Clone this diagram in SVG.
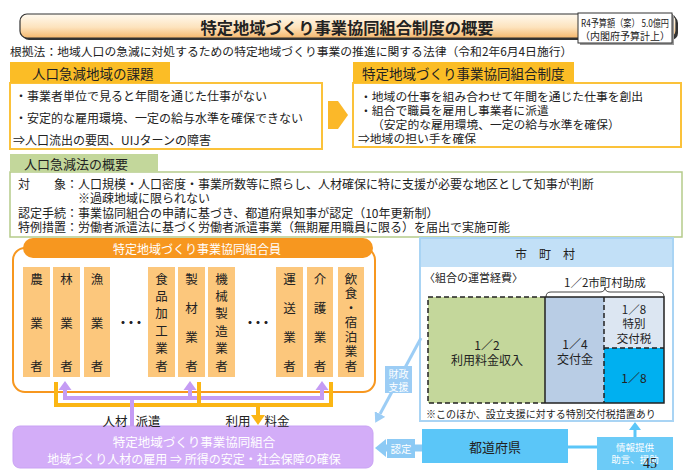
<svg xmlns="http://www.w3.org/2000/svg" width="690" height="474" viewBox="0 0 690 474">
<style>
text{font-family:"Noto Sans CJK JP","Noto Sans",sans-serif;fill:#222;dominant-baseline:central}
.c{text-anchor:middle}
.w{fill:#fff}
.col{font-size:12.5px;text-anchor:middle}
.colbox{fill:#fcc77c}
.hdr{fill:#fbbd26}
.ybox{fill:#fff;stroke:#fbc23a;stroke-width:2}
</style>
<defs>
<linearGradient id="tg" x1="0" y1="0" x2="0" y2="1">
<stop offset="0" stop-color="#fffaf0"/>
<stop offset="0.55" stop-color="#fde3bd"/>
<stop offset="1" stop-color="#f5b76c"/>
</linearGradient>
<marker id="hp" markerUnits="userSpaceOnUse" viewBox="0 -7 9 14" refX="0" refY="0" markerWidth="9" markerHeight="14" orient="auto"><path d="M0,-6.5L9,0L0,6.5z" fill="#c59cf4"/></marker>
<marker id="ho" markerUnits="userSpaceOnUse" viewBox="0 -7 10 14" refX="0" refY="0" markerWidth="10" markerHeight="14" orient="auto"><path d="M0,-7L10,0L0,7z" fill="#fbb614"/></marker>
<marker id="hb1" markerUnits="userSpaceOnUse" viewBox="0 -9 11 18" refX="0" refY="0" markerWidth="11" markerHeight="18" orient="auto"><path d="M0,-9L11,0L0,9z" fill="#8ccaf5"/></marker>
<marker id="hb2" markerUnits="userSpaceOnUse" viewBox="0 -6 10 12" refX="0" refY="0" markerWidth="10" markerHeight="12" orient="auto"><path d="M0,-6L10,0L0,6z" fill="#9ccdf5"/></marker>
<marker id="hb3" markerUnits="userSpaceOnUse" viewBox="0 -6 8 12" refX="0" refY="0" markerWidth="8" markerHeight="12" orient="auto"><path d="M0,-6L8,0L0,6z" fill="#5bc6f8"/></marker>
</defs>

<g id="title">
<rect x="22" y="16" width="656" height="24" rx="7" fill="#333"/>
<rect x="20" y="14" width="656" height="24" rx="7" fill="url(#tg)" stroke="#333" stroke-width="1.2"/>
<text x="347" y="26.5" class="c" font-size="16.3" font-weight="bold">特定地域づくり事業協同組合制度の概要</text>
</g>

<g id="budget">
<rect x="580" y="15" width="94" height="30" fill="#9a9a9a"/>
<rect x="578" y="13" width="94" height="30" fill="#fff" stroke="#333"/>
<text x="625" y="22.5" class="c" font-size="10" textLength="88" lengthAdjust="spacingAndGlyphs">R4予算額（案） 5.0億円</text>
<text x="625" y="35" class="c" font-size="10">（内閣府予算計上）</text>
</g>

<text id="basis" x="10" y="50" font-size="11.8">根拠法：地域人口の急減に対処するための特定地域づくり事業の推進に関する法律（令和2年6月4日施行）</text>

<g id="issues">
<rect x="10" y="83" width="312" height="66" class="ybox"/>
<rect x="10" y="62" width="160" height="21" class="hdr"/>
<text x="32" y="72.5" font-size="13.5">人口急減地域の課題</text>
<text x="15" y="95" font-size="12">・事業者単位で見ると年間を通じた仕事がない</text>
<text x="15" y="117" font-size="12">・安定的な雇用環境、一定の給与水準を確保できない</text>
<text x="13" y="139" font-size="12">⇒人口流出の要因、UIJターンの障害</text>
</g>

<g id="system">
<rect x="353" y="83" width="328" height="64" class="ybox"/>
<rect x="353" y="62" width="221" height="21" class="hdr"/>
<text x="362" y="72.5" font-size="13.5">特定地域づくり事業協同組合制度</text>
<text x="360" y="95" font-size="11.8">・地域の仕事を組み合わせて年間を通じた仕事を創出</text>
<text x="360" y="109" font-size="11.8">・組合で職員を雇用し事業者に派遣</text>
<text x="372" y="123" font-size="11.8">（安定的な雇用環境、一定の給与水準を確保）</text>
<text x="358" y="137.5" font-size="11.8">⇒地域の担い手を確保</text>
</g>

<g id="law">
<rect x="10" y="172" width="672" height="65" fill="#fff" stroke="#b5cb8a" stroke-width="1.5"/>
<rect x="10" y="154" width="148" height="18" fill="#c3d79b"/>
<text x="24" y="163.5" font-size="13">人口急減法の概要</text>
<text x="18" y="183" font-size="12">対　　象：人口規模・人口密度・事業所数等に照らし、人材確保に特に支援が必要な地区として知事が判断</text>
<text x="78" y="197.5" font-size="12">※過疎地域に限られない</text>
<text x="18" y="212" font-size="12">認定手続：事業協同組合の申請に基づき、都道府県知事が認定（10年更新制）</text>
<text x="18" y="226" font-size="12">特例措置：労働者派遣法に基づく労働者派遣事業（無期雇用職員に限る）を届出で実施可能</text>
</g>

<g id="members">
<rect x="13" y="248" width="362" height="144" rx="12" fill="#fff" stroke="#f7971f" stroke-width="2"/>
<rect x="23" y="238" width="350" height="20" rx="10" fill="#f7971f"/>
<text x="197" y="248.5" class="c w" font-size="12">特定地域づくり事業協同組合員</text>
<rect x="23" y="267" width="27" height="110" class="colbox"/>
<text class="col" x="36.5 36.5 36.5" y="278 322 365">農業者</text>
<rect x="53" y="267" width="27" height="110" class="colbox"/>
<text class="col" x="66.5 66.5 66.5" y="278 322 365">林業者</text>
<rect x="84" y="267" width="26" height="110" class="colbox"/>
<text class="col" x="97 97 97" y="278 322 365">漁業者</text>
<text x="117" y="322" font-size="12" font-weight="bold" letter-spacing="-4">・・・</text>
<rect x="148" y="267" width="27" height="110" class="colbox"/>
<text class="col" x="161.5 161.5 161.5 161.5 161.5 161.5" y="278 295.4 312.8 330.2 347.6 365">食品加工業者</text>
<rect x="178" y="267" width="27" height="110" class="colbox"/>
<text class="col" x="191.5 191.5 191.5 191.5" y="278 307 336 365">製材業者</text>
<rect x="208" y="267" width="27" height="110" class="colbox"/>
<text class="col" x="221.5 221.5 221.5 221.5 221.5 221.5" y="278 295.4 312.8 330.2 347.6 365">機械製造業者</text>
<text x="244" y="322" font-size="12" font-weight="bold" letter-spacing="-4">・・・</text>
<rect x="276" y="267" width="27" height="110" class="colbox"/>
<text class="col" x="289.5 289.5 289.5 289.5" y="278 307 336 365">運送業者</text>
<rect x="307" y="267" width="26" height="110" class="colbox"/>
<text class="col" x="320 320 320 320" y="278 307 336 365">介護業者</text>
<rect x="338" y="267" width="26" height="110" class="colbox"/>
<text class="col" x="351 351 351 351 351 351 351" y="278 292.5 307 321.5 336 350.5 365">飲食・宿泊業者</text>
</g>

<g id="union">
<rect x="13" y="426" width="360" height="42" rx="7" fill="#d3adf8" stroke="#c9a2f4"/>
<text x="194" y="441.5" class="c w" font-size="12.5">特定地域づくり事業協同組合</text>
<text x="194" y="458.5" class="c w" font-size="12">地域づくり人材の雇用 ⇒ 所得の安定・社会保障の確保</text>
</g>

<g id="municipality">
<rect x="420" y="238" width="253" height="183" fill="#fff" stroke="#a9d4f4" stroke-width="2"/>
<rect x="421" y="239" width="251" height="28" fill="#c2e0f7"/>
<text x="545" y="253" class="c" font-size="12">市　町　村</text>
<text x="424" y="277" font-size="11">〈組合の運営経費〉</text>
<text x="605" y="282" class="c" font-size="11.5">1／2市町村助成</text>
<path d="M546,297 Q546,292 551,292 L600,292 Q605,292 605,287 Q605,292 610,292 L659,292 Q664,292 664,297" fill="none" stroke="#444" stroke-width="1"/>
<rect x="428" y="297" width="117" height="106" fill="#c4d79b"/>
<rect x="545" y="297" width="59" height="106" fill="#b9cde5"/>
<rect x="604" y="297" width="60" height="51" fill="#dce6f2"/>
<rect x="604" y="348" width="60" height="55" fill="#00b0f0"/>
<path d="M545,297 H428 V403 H545" fill="none" stroke="#222" stroke-width="1.5" stroke-dasharray="5 3"/>
<path d="M545,297 V403 M545,297 H664 V403 H545" fill="none" stroke="#222" stroke-width="1.5"/>
<path d="M604,297 V403 M604,348 H664" fill="none" stroke="#222" stroke-width="1.5" stroke-dasharray="5 3"/>
<text x="487" y="344" class="c" font-size="12">1／2</text>
<text x="487" y="359.5" class="c" font-size="12">利用料金収入</text>
<text x="575" y="343" class="c" font-size="12">1／4</text>
<text x="575" y="358.5" class="c" font-size="12">交付金</text>
<text x="634" y="308.5" class="c" font-size="11.5">1／8</text>
<text x="634" y="323" class="c" font-size="11.5">特別</text>
<text x="634" y="337.5" class="c" font-size="11.5">交付税</text>
<text x="634" y="377" class="c" font-size="12">1／8</text>
<text x="426" y="413" font-size="10">※このほか、設立支援に対する特別交付税措置あり</text>
</g>

<g id="prefecture">
<rect x="422" y="429" width="146" height="34" fill="#5bc6f8"/>
<text x="495" y="446.5" class="c" font-size="13">都道府県</text>
</g>

<g id="connectors" fill="none">
<polygon points="328,101 338,101 348,115 338,129 328,129" fill="#fbb829"/>
<path d="M65,390 V398 H322 V390" stroke="#c59cf4" stroke-width="4"/>
<path d="M65,392 V390" stroke="#c59cf4" stroke-width="4" marker-end="url(#hp)"/>
<path d="M190,398 V390" stroke="#c59cf4" stroke-width="4" marker-end="url(#hp)"/>
<path d="M322,392 V390" stroke="#c59cf4" stroke-width="4" marker-end="url(#hp)"/>
<path d="M56,382 V405 H331 V382 M199,382 V405" stroke="#fbb614" stroke-width="4"/>
<path d="M258,405 V415" stroke="#fbb614" stroke-width="4" marker-end="url(#ho)"/>
<path d="M132,398 V426" stroke="#c59cf4" stroke-width="4"/>
<path d="M422,448 H386" stroke="#8ccaf5" stroke-width="7" marker-end="url(#hb1)"/>
<path d="M421,338 L380,414" stroke="#9ccdf5" stroke-width="3" marker-end="url(#hb2)"/>
<path d="M568,447 H597" stroke="#5bc6f8" stroke-width="3"/>
<path d="M635,437 V430" stroke="#5bc6f8" stroke-width="3" marker-end="url(#hb3)"/>
</g>

<g id="flow-labels">
<text x="115" y="420" class="c" font-size="12.5">人材</text>
<text x="148" y="420" class="c" font-size="12.5">派遣</text>
<text x="238" y="420" class="c" font-size="12.5">利用</text>
<text x="277" y="420" class="c" font-size="12.5">料金</text>
</g>

<g id="label-nintei">
<rect x="387" y="439" width="28" height="19" fill="#8ccaf5"/>
<text x="401" y="448.5" class="c w" font-size="10.5">認定</text>
</g>

<g id="label-zaisei">
<rect x="385" y="366" width="27" height="27" fill="#9ccdf5"/>
<text x="398.5" y="373.5" class="c w" font-size="10">財政</text>
<text x="398.5" y="386" class="c w" font-size="10">支援</text>
</g>

<g id="info">
<rect x="597" y="437" width="76" height="33" fill="#6ccbf7"/>
<text x="635" y="447" class="c w" font-size="9.5">情報提供</text>
<text x="635" y="459" class="c w" font-size="9.5">助言、援助</text>
</g>

<text id="page" x="650" y="463" class="c" font-size="14" style="font-family:'Liberation Serif',serif" fill="#333">45</text>
</svg>
